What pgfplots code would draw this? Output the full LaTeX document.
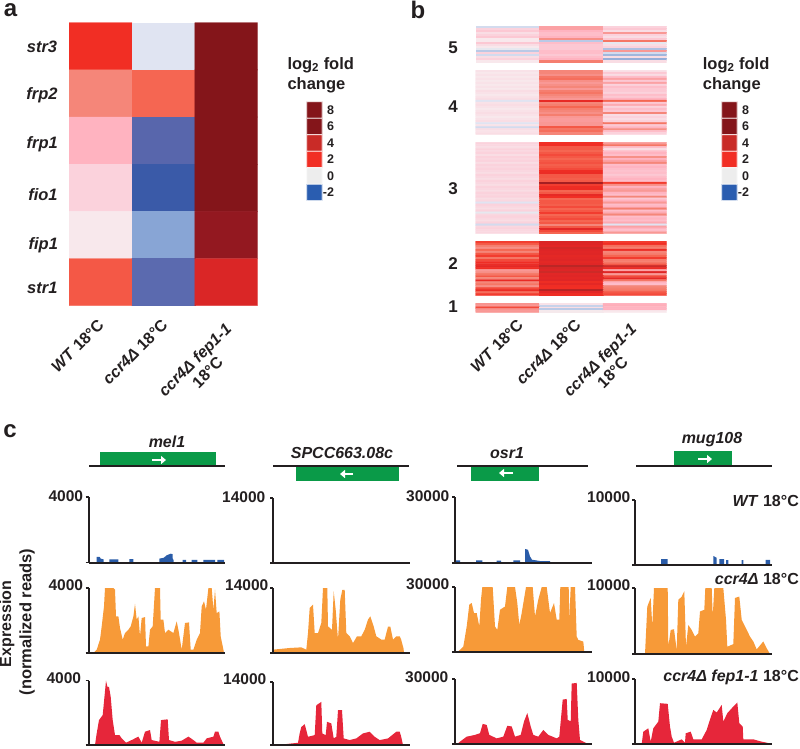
\documentclass[border=0pt]{standalone}
\usepackage{fontspec}
\setmainfont{Liberation Sans}
\usepackage{pgfplots}
\pgfplotsset{compat=1.18}
\usetikzlibrary{arrows.meta}

\definecolor{ink}{HTML}{231F20}
\definecolor{wtblue}{HTML}{2A5CA8}
\definecolor{ccrorange}{HTML}{F79A38}
\definecolor{feprED}{HTML}{E6263A}
\definecolor{genegreen}{HTML}{0A9A48}

\newcommand{\bfs}[1]{\fontsize{#1}{#1}\selectfont\bfseries}

% value v sits at position 10*(v+2)
\pgfplotsset{
  colormap={fold}{
    rgb255(0pt)=(42,93,176); rgb255(1pt)=(58,90,168); rgb255(4pt)=(88,102,172);
    rgb255(11pt)=(136,165,213); rgb255(18pt)=(224,228,242); rgb255(20pt)=(237,237,237);
    rgb255(22pt)=(248,232,236); rgb255(24pt)=(251,210,220); rgb255(27pt)=(255,179,192);
    rgb255(32pt)=(245,134,121); rgb255(36pt)=(245,102,82); rgb255(40pt)=(241,46,36);
    rgb255(55pt)=(222,37,38); rgb255(60pt)=(201,43,39); rgb255(75pt)=(147,24,32);
    rgb255(80pt)=(132,21,26); rgb255(100pt)=(132,21,26)
  },
  hm/.style={
    scale only axis, anchor=north west, axis lines=none,
    xmin=-0.5, xmax=2.5, ymin=-0.5, y dir=reverse,
    point meta min=-2, point meta max=8, colormap name=fold
  },
  table/rows3/.style={
    row sep=crcr, header=false, meta index=0,
    x expr={\coordindex-3*floor((\coordindex+0.5)/3)}, y expr={floor((\coordindex+0.5)/3)}
  },
  track/.style={
    scale only axis, anchor=north west, width=136.5pt,
    xmin=0, xmax=136.5, ymin=0, xtick=\empty,
    axis x line*=bottom, axis y line*=left, axis on top,
    axis line style={line width=1.6pt,color=ink},
    y tick style={line width=1.4pt,color=ink},
    tick align=outside, major tick length=3pt,
    scaled y ticks=false,
    y tick label style={font=\bfs{15.5},text=ink,inner sep=1.5pt},
    /pgf/number format/assume math mode=true
  },
  bar/.style={
    scale only axis, anchor=north west, width=15.6pt, height=99pt,
    xmin=-0.5, xmax=0.5, ymin=-0.5, ymax=5.5, y dir=reverse,
    point meta min=-2, point meta max=8, colormap name=fold,
    axis line style={draw=none}, xtick=\empty, major tick length=0pt,
    ytick={0,...,5}, yticklabels={8,6,4,2,0,-2},
    ytick pos=right,
    y tick label style={anchor=east,xshift=12pt,inner sep=0pt,font=\bfs{12.5},text=ink},
    /pgf/number format/assume math mode=true
  }
}

\newcommand{\track}[7]{%
  \begin{axis}[track,at={(#1pt,-#2pt)},height=#3pt,ymax=#4,ytick={0,#4},yticklabels={{},#4},
      y tick label style={#7}]
    \addplot[draw=none,fill=#5] coordinates {#6} \closedcycle;
  \end{axis}}

\newcommand{\foldbar}[1]{%
  \begin{axis}[bar,at={(#1pt,-101.7pt)}]
    \addplot[matrix plot,draw=white,line width=0.8pt,mesh/cols=2,point meta=explicit]
      table[row sep=crcr,header=false,meta index=0,
            x expr={\coordindex-2*floor((\coordindex+0.5)/2)},y expr={floor((\coordindex+0.5)/2)}]
      {8\\8\\6\\6\\4\\4\\2\\2\\0\\0\\-2\\-2\\};
  \end{axis}}

\begin{document}
\begin{tikzpicture}[x=1pt,y=1pt,text=ink]
\path[use as bounding box] (0,0) rectangle (800,-748);

% panel a
\begin{axis}[hm,at={(69pt,-22.7pt)},width=188.7pt,height=283pt,ymax=5.5]
  \addplot[matrix plot*,mesh/cols=3,point meta=explicit] table[rows3] {
    2.0\\-0.2\\7.0\\
    1.2\\1.6\\7.0\\
    0.7\\-1.6\\7.0\\
    0.4\\-1.9\\7.0\\
    0.2\\-0.9\\5.5\\
    1.7\\-1.55\\3.6\\
  };
\end{axis}

% panel b, one axis per cluster, top to bottom
\begin{axis}[hm,at={(475.7pt,-25.7pt)},width=191pt,height=36.3pt,ymax=17.5]
  \addplot[matrix plot*,mesh/cols=3,point meta=explicit] table[rows3] {
    -0.3\\0.9\\0.4\\ 0.4\\0.9\\0.5\\ 0.5\\0.7\\0.3\\ 0.3\\0.6\\1.0\\ 0.4\\0.6\\0.4\\ 0.5\\0.7\\0.3\\
    0.2\\1.1\\0.5\\ 0.2\\-0.5\\1.4\\ 0.5\\0.6\\-0.1\\ 0.3\\0.5\\0.3\\ 0.2\\0.5\\0.4\\ -0.1\\0.5\\-0.6\\
    -0.5\\0.6\\1.0\\ 0.4\\0.6\\-0.3\\ -0.3\\0.5\\-0.7\\ 0.3\\0.6\\0.3\\ 0.4\\0.7\\-0.8\\ 0.2\\1.3\\0.3\\
  };
\end{axis}
\begin{axis}[hm,at={(475.7pt,-70pt)},width=191pt,height=64.3pt,ymax=31.5]
  \addplot[matrix plot*,mesh/cols=3,point meta=explicit] table[rows3] {
    0.25\\1.2\\0.25\\ 0.2\\1.2\\0.5\\ 0.25\\1.1\\0.3\\ 0.2\\1.4\\0.6\\ 0.25\\1.5\\0.9\\ 0.2\\1.1\\0.5\\
    0.25\\1.0\\0.9\\ 0.2\\1.1\\0.4\\ 0.25\\1.2\\0.6\\ 0.2\\1.0\\0.5\\ 0.3\\1.3\\0.5\\ 0.25\\1.4\\0.4\\
    0.2\\1.2\\0.6\\ 0.25\\1.1\\0.5\\ 0.3\\1.0\\0.7\\ -0.2\\2.8\\1.6\\ 0.25\\1.2\\0.5\\ 0.3\\1.3\\0.8\\
    0.25\\1.6\\0.4\\ 0.2\\1.3\\0.6\\ 0.25\\1.2\\0.5\\ 0.3\\1.1\\1.2\\ 0.25\\1.3\\0.3\\ 0.2\\1.0\\0.4\\
    0.25\\0.95\\0.3\\ 0.3\\0.95\\0.4\\ -0.2\\1.0\\1.4\\ 0.25\\1.0\\0.5\\ -0.3\\1.7\\0.7\\ 0.3\\1.4\\1.1\\
    0.25\\1.5\\0.6\\ 0.3\\1.2\\0.4\\
  };
\end{axis}
\begin{axis}[hm,at={(475.7pt,-142.3pt)},width=191pt,height=91.4pt,ymax=45.5]
  \addplot[matrix plot*,mesh/cols=3,point meta=explicit] table[rows3] {
    0.4\\2.0\\1.0\\ 0.35\\2.1\\1.4\\ 0.3\\1.7\\0.6\\ 0.4\\1.7\\0.3\\ 0.35\\1.6\\0.6\\ 0.4\\1.7\\0.7\\
    0.3\\1.8\\0.6\\ 0.4\\1.7\\1.1\\ 0.35\\1.6\\0.7\\ 0.4\\1.7\\0.9\\ 0.3\\1.75\\1.2\\ 0.4\\1.65\\0.6\\
    0.35\\1.7\\0.7\\ 0.4\\1.8\\0.6\\ 0.35\\2.2\\0.55\\ 0.3\\2.4\\0.6\\ 0.4\\1.7\\0.5\\ 0.35\\1.7\\0.6\\
    0.3\\1.65\\0.7\\ 0.4\\1.7\\0.6\\ 0.35\\5.0\\1.9\\ 0.3\\1.9\\1.1\\ 0.4\\2.2\\0.7\\ 0.35\\2.3\\0.9\\
    0.3\\1.6\\1.0\\ 0.4\\1.7\\0.7\\ 0.35\\2.8\\0.6\\ 0.4\\2.0\\1.2\\ 0.3\\1.6\\0.5\\ 0.35\\1.7\\0.7\\
    -0.2\\1.7\\1.0\\ 0.4\\1.65\\0.6\\ 0.35\\1.8\\0.7\\ 0.3\\1.6\\1.3\\ 0.4\\1.7\\0.6\\ -0.1\\1.9\\0.8\\
    0.35\\1.6\\1.2\\ 0.4\\1.7\\0.6\\ 0.35\\1.8\\0.7\\ 0.3\\1.6\\0.6\\ 0.4\\1.7\\0.8\\ -0.3\\1.2\\-0.2\\
    0.35\\1.7\\0.9\\ 0.4\\3.2\\0.7\\ 0.35\\1.8\\0.6\\ 0.35\\1.6\\1.0\\
  };
\end{axis}
\begin{axis}[hm,at={(475.7pt,-241pt)},width=191pt,height=54.7pt,ymax=26.5]
  \addplot[matrix plot*,mesh/cols=3,point meta=explicit] table[rows3] {
    1.9\\3.6\\1.9\\ 1.7\\3.5\\2.0\\ 1.3\\3.2\\1.5\\ 1.1\\3.8\\1.3\\ 1.6\\3.5\\2.4\\ 1.2\\3.3\\1.2\\
    1.7\\3.4\\1.3\\ 1.9\\3.0\\1.6\\ 1.4\\3.2\\1.9\\ 1.8\\3.4\\1.3\\ 2.1\\3.0\\1.4\\ 2.4\\3.3\\1.7\\
    3.0\\4.4\\3.9\\ 2.0\\3.7\\2.4\\ 1.0\\3.5\\0.9\\ 1.1\\3.9\\3.4\\ 1.4\\3.2\\1.0\\ 1.7\\3.4\\1.8\\
    1.2\\3.1\\2.9\\ 2.6\\3.4\\1.4\\ 1.2\\2.2\\0.7\\ 1.4\\3.0\\0.6\\ 1.1\\2.1\\1.2\\ 1.8\\2.0\\1.3\\
    2.3\\4.5\\1.4\\ 1.5\\3.2\\1.7\\ 1.9\\2.2\\1.8\\
  };
\end{axis}
\begin{axis}[hm,at={(475.7pt,-303pt)},width=191pt,height=9.3pt,ymax=4.5]
  \addplot[matrix plot*,mesh/cols=3,point meta=explicit] table[rows3] {
    1.05\\0.25\\0.7\\ 1.0\\-0.4\\0.75\\ 1.8\\0.3\\0.7\\ 1.05\\-0.5\\0.7\\ 1.0\\0.15\\0.2\\
  };
\end{axis}

% colour keys
\foldbar{306.7}
\foldbar{721.7}

% panel c tracks
\track{88.7}{497}{65.7}{4000}{wtblue}{(8,0)(8,350)(11,350)(12,250)(15,200)(15,0)(20.7,0)(20.7,200)(29.7,200)(29.7,0)(40.7,0)(40.7,220)(44.7,220)(44.7,0)(70.7,0)(70.7,250)(75,300)(78,450)(82,550)(84,520)(84,250)(85,150)(85,0)(94,0)(94,170)(97.3,170)(97.3,0)(103,0)(103,170)(108.7,170)(108.7,0)(114.7,0)(114.7,170)(126.3,170)(126.3,0)(128.7,0)(128.7,170)(135.3,170)(135.3,0)}{yshift=0.5pt,xshift=-1pt}
\track{88.7}{588}{65}{4000}{ccrorange}{(4.7,0)(8,205)(11.3,820)(13,1640)(15.3,2870)(16.3,4000)(24.7,4000)(26.3,3900)(27.3,2255)(29.7,2255)(31.3,1540)(34,820)(36.3,1230)(39.7,1435)(42,1640)(44.7,2255)(46.3,3030)(48,2050)(49.7,2255)(51.3,1025)(53,2150)(56.3,2215)(57.3,410)(59.7,410)(61.3,1435)(64,1640)(66.3,4000)(71.3,4000)(72,2050)(74.7,2050)(76.3,1230)(79.7,1435)(84.7,1230)(88,1950)(90.3,1230)(93,205)(96.3,1845)(100.3,1885)(102,205)(104.7,205)(108,820)(111.3,1230)(113,2870)(115.3,3180)(117.3,2665)(119.7,4000)(123,4000)(124.7,2665)(126.3,3900)(128,2460)(130.7,2560)(132,1025)(134.7,205)(135.3,0)}{yshift=3pt,xshift=-1pt}
\track{88.7}{680.7}{64.3}{4000}{feprED}{(6.3,0)(8,725)(10.3,1550)(14,1860)(17.3,4000)(18.7,3620)(20.3,3620)(22,3000)(24,1550)(26.3,620)(30.7,620)(33,415)(37.3,145)(43,310)(49.7,520)(53,145)(56.3,830)(61.3,930)(63,310)(70.7,200)(72.3,1550)(79,1600)(80.3,310)(86.3,200)(93,270)(99.7,520)(104.7,310)(108,145)(114.7,145)(118,415)(124.7,520)(126.3,830)(129.7,830)(131.3,520)(134.7,60)(135.3,0)}{yshift=3pt,xshift=-3pt}

\track{273}{498}{65}{14000}{wtblue}{(0,0)(136,0)}{yshift=1pt,xshift=-3pt}
\track{273}{588}{65}{14000}{ccrorange}{(0,720)(16.7,1080)(28.3,1220)(33.3,720)(35,4310)(36.7,9700)(40,10400)(41.7,4300)(45,4300)(48.3,6460)(50,14000)(54.3,14000)(55,5740)(59,5000)(60.7,13300)(62.7,9300)(65,2870)(67.3,11500)(69.3,13600)(71.7,13600)(73.3,4300)(76.7,3600)(80,2150)(84,3600)(88.3,3600)(91.7,5000)(95,7200)(97.3,7900)(100.7,5700)(103.3,3600)(108.3,2900)(111.7,2900)(115,5700)(117.3,5700)(120,2900)(123.3,3600)(126.7,3600)(128,3000)(130.5,1000)(131,0)}{yshift=3pt}
\track{273}{682}{63}{14000}{feprED}{(10,0)(13.3,220)(25,500)(26.7,2600)(28.3,4000)(31.7,4640)(35,1840)(41.7,2200)(43.3,8840)(48.3,9580)(49.3,2580)(52.7,2200)(54,5160)(58.3,4800)(60.7,1470)(63.3,1840)(65,7740)(69,7740)(70.7,1470)(76.7,1100)(83.3,1470)(90,2580)(96.7,2950)(101.7,1840)(106.7,1100)(115,1470)(123.3,2950)(126.7,2950)(128,2000)(130,0)}{yshift=3pt,xshift=-2pt}

\track{455}{497}{66}{30000}{wtblue}{(1,0)(1,1200)(5,1200)(5,0)(21,0)(21,1200)(27.3,1200)(27.3,0)(41.7,0)(41.7,1100)(46,1100)(46,0)(58.3,0)(58.3,1200)(65,1200)(65,0)(70,0)(70,6400)(73,6000)(75,3000)(77,1500)(85,900)(95,900)(95,0)}{yshift=0.5pt,xshift=-1pt}
\track{455}{587}{65}{30000}{ccrorange}{(3.3,300)(8.3,2480)(11.7,11800)(14.3,21900)(16.7,22600)(19,18000)(21.7,18000)(24.3,11800)(26,24200)(27.3,30000)(37.7,30000)(40,11800)(42.3,10200)(45,19500)(50,21000)(52.3,30000)(60,30000)(62.3,22600)(64.3,12500)(66.7,18000)(71,30000)(77.7,30000)(80,16400)(83.3,24200)(86.7,30000)(91.7,30000)(95,18000)(99,22600)(101.7,14900)(104.3,14900)(105.3,30000)(113.7,30000)(114.3,14900)(115.7,30000)(120,30000)(121.7,7100)(123.3,5600)(128.3,4800)(129.3,0)}{yshift=3pt,xshift=-1pt}
\track{455}{679}{65}{30000}{feprED}{(2.3,0)(5,1100)(11.7,3400)(20,4200)(25,5000)(27.7,9300)(31.7,8800)(34.3,4200)(41.7,2600)(48.3,3400)(52.3,8400)(56.7,8100)(60,3400)(65.7,4200)(69,10400)(72.3,14300)(75.7,8100)(78.3,4200)(83.3,3400)(88.3,6500)(93.3,4200)(101.7,2600)(104.3,3400)(105.7,10400)(107.7,20500)(111.7,20800)(112.7,11200)(115.7,10400)(116.7,27900)(121.7,28200)(123.3,11200)(125,1900)(131.7,300)(133.3,0)}{yshift=2pt,xshift=-2pt}

\track{635}{500}{65}{10000}{wtblue}{(26,0)(26,900)(32.7,900)(32.7,0)(78.3,0)(78.3,1400)(81.7,1100)(81.7,0)(84.3,0)(84.3,900)(89,900)(89,0)(91,0)(91,750)(93.3,750)(93.3,0)(106.7,0)(106.7,750)(108.3,750)(108.3,0)(130.7,0)(130.7,800)(135,800)(135,0)}{yshift=2.5pt}
\track{635}{588}{66}{10000}{ccrorange}{(10,0)(11,3150)(12.3,7200)(15.7,8500)(17.3,4200)(19,10000)(32.7,10000)(33.3,1100)(35.7,3650)(39,3760)(41.7,600)(43.3,8200)(46.7,8700)(49.3,9500)(51,1100)(53.3,4400)(56.7,3650)(60,2640)(63.3,3150)(65,6450)(69.3,6700)(70.3,10000)(76.7,10000)(77.7,5700)(79.3,10000)(88.3,10000)(91,5200)(92.3,1100)(98.3,1500)(100,8500)(104.3,8700)(106.7,5200)(110,4200)(115,2640)(118.3,1900)(121.7,700)(128.3,1900)(131.7,860)(134.3,200)(135,0)}{yshift=3pt}
\track{635}{679}{65}{10000}{feprED}{(6.7,0)(8.3,1900)(13.3,2420)(15.7,360)(18.3,2420)(23.3,3450)(25,6280)(32.7,6180)(35,2680)(36.7,1130)(39,200)(46.7,720)(50,200)(50.7,1650)(55.7,1900)(58.3,720)(66.7,720)(71.7,2160)(74.3,3450)(78.3,5250)(81.7,4840)(86.7,6020)(88.3,3450)(92.3,4740)(98.3,5770)(102.3,6390)(104.3,3200)(107.7,2680)(108.3,720)(118.3,720)(126.7,360)(135,100)(136.4,0)}{yshift=2pt}

% gene models
\fill[genegreen] (100,-452) rectangle (216,-466);
\fill[genegreen] (296,-466) rectangle (399,-481);
\fill[genegreen] (471,-466) rectangle (539,-481);
\fill[genegreen] (674,-451) rectangle (732,-466);
\draw[ink,line width=1.1pt] (89,-466) -- (225,-466);
\draw[ink,line width=1.1pt] (273,-466) -- (409,-466);
\draw[ink,line width=1.1pt] (457,-466) -- (588,-466);
\draw[ink,line width=1.1pt] (636,-466) -- (772,-466);
\draw[white,line width=2.5pt,-{Triangle[length=5pt,width=8pt]}] (152,-460) -- (166,-460);
\draw[white,line width=2.5pt,-{Triangle[length=5pt,width=8pt]}] (353,-474) -- (340,-474);
\draw[white,line width=2.5pt,-{Triangle[length=5pt,width=8pt]}] (513,-473) -- (499,-473);
\draw[white,line width=2.5pt,-{Triangle[length=5pt,width=8pt]}] (698,-459) -- (712,-459);
\node[font=\bfs{16}\itshape] at (167,-442) {mel1};
\node[font=\bfs{16}\itshape] at (342,-453) {SPCC663.08c};
\node[font=\bfs{16}\itshape] at (507,-453) {osr1};
\node[font=\bfs{16}\itshape] at (712,-440) {mug108};

% panel letters
\node[font=\bfs{24},inner sep=0pt] at (10.5,-10) {a};
\node[font=\bfs{24},inner sep=0pt] at (418,-9.5) {b};
\node[font=\bfs{24},inner sep=0pt] at (10,-431) {c};

% gene names of panel a
\node[font=\bfs{16.5}\itshape] at (42,-46.7) {str3};
\node[font=\bfs{16.5}\itshape] at (42,-95) {frp2};
\node[font=\bfs{16.5}\itshape] at (42.3,-144) {frp1};
\node[font=\bfs{16.5}\itshape] at (43,-195) {fio1};
\node[font=\bfs{16.5}\itshape] at (43.3,-245) {fip1};
\node[font=\bfs{16.5}\itshape] at (42.3,-288) {str1};

% cluster numbers of panel b
\node[font=\bfs{17}] at (453,-47.7) {5};
\node[font=\bfs{17}] at (453,-106.7) {4};
\node[font=\bfs{17}] at (453,-189) {3};
\node[font=\bfs{17}] at (453,-264) {2};
\node[font=\bfs{17}] at (453,-306.7) {1};

% rotated column labels
\node[font=\bfs{16},rotate=45] at (77.5,-346) {\textit{WT} 18°C};
\node[font=\bfs{16},rotate=45] at (135,-352) {\textit{ccr4Δ} 18°C};
\node[font=\bfs{16},rotate=45,align=center,inner sep=0pt] at (201,-366) {\textit{ccr4Δ fep1-1}\\[2pt]18°C};
\node[font=\bfs{16},rotate=45] at (496.7,-346) {\textit{WT} 18°C};
\node[font=\bfs{16},rotate=45] at (548.3,-352) {\textit{ccr4Δ} 18°C};
\node[font=\bfs{16},rotate=45,align=center,inner sep=0pt] at (606,-366) {\textit{ccr4Δ fep1-1}\\[2pt]18°C};

% colour key titles
\node[font=\bfs{16.5},anchor=west,inner sep=0pt] at (287.3,-65) {log\textsubscript{2} fold};
\node[font=\bfs{16.5},anchor=west,inner sep=0pt] at (287.3,-85) {change};
\node[font=\bfs{16.5},anchor=west,inner sep=0pt] at (702.7,-65) {log\textsubscript{2} fold};
\node[font=\bfs{16.5},anchor=west,inner sep=0pt] at (702.7,-85) {change};

% track labels
\node[font=\bfs{16},anchor=east,inner sep=0pt] at (799,-500.7) {\textit{WT} 18°C};
\node[font=\bfs{16},anchor=east,inner sep=0pt] at (799,-579) {\textit{ccr4Δ} 18°C};
\node[font=\bfs{16},anchor=east,inner sep=0pt] at (799,-677.7) {\textit{ccr4Δ fep1-1} 18°C};
\node[font=\bfs{16},rotate=90,inner sep=0pt] at (7,-624) {Expression};
\node[font=\bfs{16.5},rotate=90,inner sep=0pt] at (27,-622) {(normalized reads)};
\end{tikzpicture}
\end{document}
